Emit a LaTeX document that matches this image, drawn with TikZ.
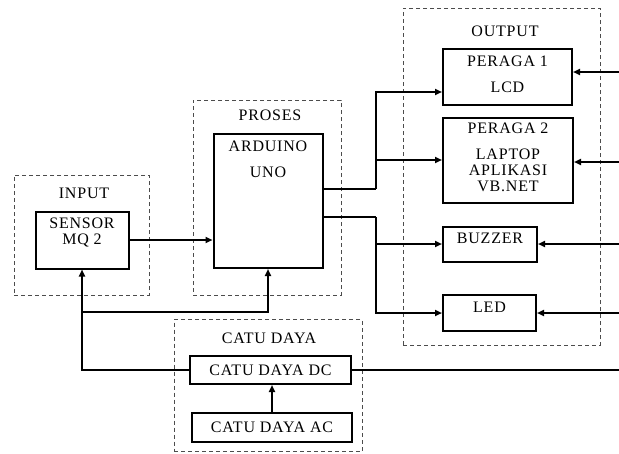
\documentclass[tikz,border=0pt]{standalone}
\usepackage{fontspec}
\setmainfont{Liberation Serif}
\newfontfamily\hurufblok[LetterSpace=5]{Liberation Serif}
\usepackage{tikz}
\usetikzlibrary{arrows.meta, calc}

\begin{document}
\begin{tikzpicture}[x=1pt, y=-1pt, font=\hurufblok\fontsize{16}{16}\selectfont,
  grp/.style={draw=black!70, dash pattern=on 4pt off 3pt, line width=1pt, inner sep=0pt},
  blok/.style={draw, line width=2pt, inner sep=0pt},
  judul/.style={inner sep=0pt},
  isi/.style={anchor=north, align=center, inner sep=0pt},
  conn/.style={line width=2pt},
  arr/.style={conn, -{Triangle[length=7pt,width=6pt]}}]
  \useasboundingbox (0,0) rectangle (619,453);
  \node[grp, minimum width=135pt, minimum height=120pt] (gInput) at (81.5,235) {};
  \node[grp, minimum width=148pt, minimum height=195pt] (gProses) at (267,197.5) {};
  \node[grp, minimum width=197pt, minimum height=337pt] (gOutput) at (501.5,176.5) {};
  \node[grp, minimum width=188pt, minimum height=132pt] (gCatu) at (268,385.5) {};
  \node[judul] (tInput) at (84,193) {INPUT};
  \node[judul] (tProses) at (270,115) {PROSES};
  \node[judul] (tOutput) at (505,31) {OUTPUT};
  \node[judul] (tCatu) at (269,338) {CATU DAYA};
  \node[blok, minimum width=93pt, minimum height=57pt, label={[isi, yshift=-7pt]north:SENSOR\\MQ 2}] (sensor) at (82,240) {};
  \node[blok, minimum width=109pt, minimum height=134pt, label={[isi, yshift=-8pt]north:ARDUINO\\[10pt]UNO}] (arduino) at (268,201) {};
  \node[blok, minimum width=129pt, minimum height=56pt, label={[isi, yshift=-8pt]north:PERAGA 1\\[10pt]LCD}] (peraga1) at (507.5,77) {};
  \node[blok, minimum width=130pt, minimum height=85pt, label={[isi, yshift=-6pt]north:PERAGA 2\\[10pt]LAPTOP\\APLIKASI\\VB.NET}] (peraga2) at (508,160) {};
  \node[blok, minimum width=94pt, minimum height=35pt, label={[isi, yshift=-7pt]north:BUZZER}] (buzzer) at (490,244) {};
  \node[blok, minimum width=93pt, minimum height=36pt, label={[isi, yshift=-8pt]north:LED}] (led) at (489.5,313) {};
  \node[blok, minimum width=161pt, minimum height=28pt] (catudc) at (270.5,370) {CATU DAYA DC};
  \node[blok, minimum width=160pt, minimum height=29pt] (catuac) at (272,427.5) {CATU DAYA AC};
  \coordinate (bus1) at (376,189);
  \coordinate (bus2) at (376,217);
  \coordinate (pwrX) at (619,0);
  \coordinate (tap) at (sensor.south |- 0,312);
  \draw[arr] (sensor.east) -- (sensor.east -| arduino.west);
  \draw[conn] (arduino.east |- bus1) -- (bus1);
  \draw[arr] (bus1) |- ($(peraga1.west)+(0,15)$);
  \draw[arr] (bus1 |- peraga2.west) -- (peraga2.west);
  \draw[conn] (arduino.east |- bus2) -- (bus2);
  \draw[arr] (bus2) |- (led.west);
  \draw[arr] (bus2 |- buzzer.west) -- (buzzer.west);
  \foreach \n/\dy in {peraga1/-5, peraga2/2, buzzer/0, led/0}
    \draw[arr] ($(\n.east -| pwrX)+(0,\dy)$) -- ($(\n.east)+(0,\dy)$);
  \draw[conn] (catudc.east) -- (catudc.east -| pwrX);
  \draw[arr] (catudc.west) -| (sensor.south);
  \draw[arr] (tap) -| (arduino.south);
  \draw[arr] (catuac.north) -- (catuac.north |- catudc.south);
\end{tikzpicture}
\end{document}
